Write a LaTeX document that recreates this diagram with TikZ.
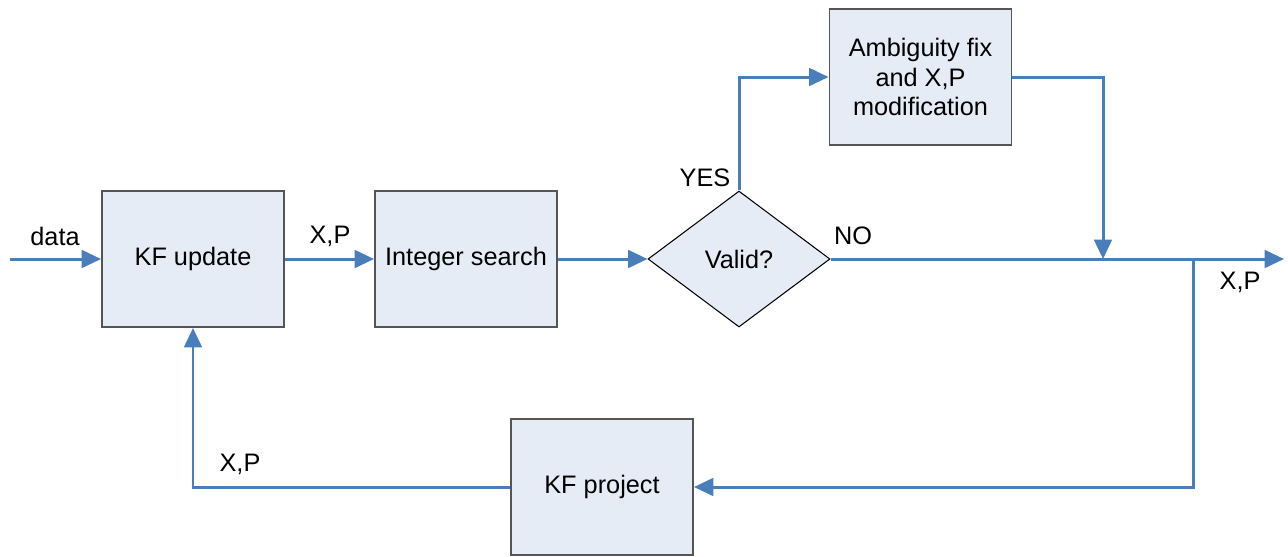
\documentclass[tikz,border=0pt]{standalone}
\usepackage{fontspec}
\setmainfont{Liberation Sans}
\usetikzlibrary{shapes.geometric,arrows.meta}
\definecolor{boxfill}{HTML}{E6ECF6}
\definecolor{flow}{HTML}{4A7EBB}
\definecolor{boxdraw}{HTML}{555555}
\begin{document}
\begin{tikzpicture}[x=0.02cm,y=-0.02cm,
  every node/.style={font=\fontsize{14.4}{17}\selectfont},
  proc/.style={draw=boxdraw,line width=1.1pt,fill=boxfill,minimum width=3.64cm,minimum height=2.72cm,inner sep=0pt,align=center},
  decision/.style={diamond,draw=black,line width=0.6pt,fill=boxfill,minimum width=3.64cm,minimum height=2.72cm,aspect=1.338,inner sep=0pt},
  flowline/.style={draw=flow,line width=1.7pt},
  arr/.style={flowline,-{Triangle[length=11pt,width=10pt]}},
  lbl/.style={inner sep=0pt}
]
\useasboundingbox (0,0) rectangle (1288,556);
\node[proc] (kfu) at (193,259) {KF update};
\node[proc] (ints) at (466,259) {Integer search};
\node[decision] (valid) at (739,259) {Valid?};
\node[proc] (amb) at (920.5,77) {Ambiguity fix\\and X,P\\modification};
\node[proc] (kfp) at (602,487) {KF project};
\coordinate (din) at (10,259);
\coordinate (dout) at (1284,259);
\coordinate (merge) at (1103,259);
\coordinate (split) at (1193,259);
\draw[arr] (din) -- (kfu.west);
\draw[arr] (kfu.east) -- (ints.west);
\draw[arr] (ints.east) -- (valid.west);
\draw[arr] (valid.north) |- (amb.west);
\draw[arr] (amb.east) -| (merge);
\draw[arr] (valid.east) -- (dout);
\draw[arr] (split) |- (kfp.east);
\draw[arr] (kfp.west) -| (kfu.south);
\node[lbl] (l1) at (55,236) {data};
\node[lbl] (l2) at (330,236) {X,P};
\node[lbl] (l3) at (705,178) {YES};
\node[lbl] (l4) at (853,236) {NO};
\node[lbl] (l5) at (1240,282) {X,P};
\node[lbl] (l6) at (240,464) {X,P};
\end{tikzpicture}
\end{document}
